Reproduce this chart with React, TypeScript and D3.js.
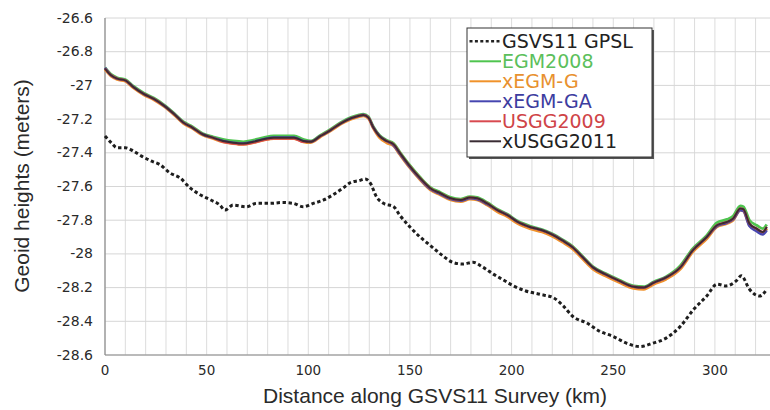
import React from "react";
import * as d3 from "d3";

const yTicks = [-26.6, -26.8, -27, -27.2, -27.4, -27.6, -27.8, -28, -28.2, -28.4, -28.6];
const xTicks = [0, 50, 100, 150, 200, 250, 300];

const modelKm = [0,3,6,10,14,19,24,29,34,38.5,43,48,53,58,63,68,73,78,83,88,93,97.5,101,106,111,116,121,125,127,129.5,132,135,138.5,142,145,150,155,160,165,170,175,179.5,183,188,193,198,203,209,215,220,225,230,235,240,246,253,260,265,270,276,283,289,296,301,306,309,312.5,314,317,320.5,323.5,325.5];

const egm2008 = [-26.895,-26.935,-26.955,-26.965,-27.005,-27.045,-27.075,-27.115,-27.165,-27.215,-27.245,-27.285,-27.305,-27.32,-27.33,-27.335,-27.325,-27.31,-27.30,-27.30,-27.30,-27.32,-27.33,-27.295,-27.26,-27.22,-27.19,-27.175,-27.17,-27.185,-27.245,-27.295,-27.325,-27.345,-27.395,-27.475,-27.545,-27.605,-27.635,-27.665,-27.675,-27.66,-27.665,-27.695,-27.735,-27.765,-27.805,-27.835,-27.855,-27.88,-27.915,-27.955,-28.015,-28.075,-28.115,-28.155,-28.19,-28.195,-28.165,-28.135,-28.07,-27.97,-27.89,-27.815,-27.795,-27.775,-27.715,-27.72,-27.80,-27.83,-27.85,-27.825];

const xEgmG = [-26.905,-26.945,-26.965,-26.975,-27.015,-27.055,-27.085,-27.125,-27.175,-27.225,-27.255,-27.295,-27.315,-27.335,-27.345,-27.35,-27.34,-27.325,-27.315,-27.315,-27.315,-27.335,-27.34,-27.305,-27.27,-27.23,-27.2,-27.185,-27.18,-27.195,-27.255,-27.31,-27.34,-27.36,-27.41,-27.49,-27.56,-27.62,-27.65,-27.68,-27.69,-27.675,-27.68,-27.71,-27.75,-27.78,-27.82,-27.85,-27.87,-27.895,-27.93,-27.97,-28.03,-28.09,-28.13,-28.17,-28.205,-28.21,-28.18,-28.15,-28.09,-27.99,-27.91,-27.84,-27.82,-27.80,-27.74,-27.745,-27.83,-27.86,-27.88,-27.85];

const xEgmGA = [-26.895,-26.94,-26.96,-26.97,-27.01,-27.05,-27.08,-27.12,-27.17,-27.22,-27.25,-27.29,-27.31,-27.33,-27.34,-27.345,-27.335,-27.32,-27.31,-27.31,-27.31,-27.33,-27.335,-27.30,-27.265,-27.225,-27.195,-27.18,-27.175,-27.19,-27.25,-27.30,-27.33,-27.355,-27.405,-27.485,-27.555,-27.615,-27.645,-27.675,-27.685,-27.67,-27.675,-27.705,-27.74,-27.77,-27.81,-27.84,-27.86,-27.885,-27.92,-27.96,-28.02,-28.08,-28.12,-28.16,-28.195,-28.20,-28.17,-28.14,-28.08,-27.98,-27.90,-27.835,-27.815,-27.795,-27.74,-27.745,-27.835,-27.865,-27.885,-27.86];

const usgg2009 = [-26.90,-26.94,-26.96,-26.97,-27.01,-27.05,-27.08,-27.12,-27.17,-27.22,-27.25,-27.29,-27.31,-27.335,-27.345,-27.35,-27.34,-27.325,-27.315,-27.315,-27.315,-27.335,-27.335,-27.30,-27.265,-27.225,-27.195,-27.18,-27.175,-27.19,-27.25,-27.30,-27.33,-27.35,-27.40,-27.48,-27.55,-27.61,-27.64,-27.67,-27.68,-27.665,-27.67,-27.70,-27.74,-27.77,-27.81,-27.84,-27.86,-27.885,-27.92,-27.96,-28.02,-28.08,-28.12,-28.16,-28.195,-28.20,-28.17,-28.14,-28.08,-27.98,-27.90,-27.83,-27.81,-27.79,-27.73,-27.735,-27.82,-27.85,-27.87,-27.84];

const xUsgg2011 = [-26.90,-26.94,-26.96,-26.97,-27.01,-27.05,-27.08,-27.12,-27.17,-27.22,-27.25,-27.29,-27.31,-27.33,-27.34,-27.345,-27.335,-27.32,-27.31,-27.31,-27.31,-27.33,-27.335,-27.30,-27.265,-27.225,-27.195,-27.18,-27.175,-27.19,-27.25,-27.30,-27.33,-27.35,-27.40,-27.48,-27.55,-27.61,-27.64,-27.67,-27.68,-27.665,-27.67,-27.70,-27.74,-27.77,-27.81,-27.84,-27.86,-27.885,-27.92,-27.96,-28.02,-28.08,-28.12,-28.16,-28.195,-28.20,-28.17,-28.14,-28.08,-27.98,-27.90,-27.83,-27.81,-27.79,-27.73,-27.735,-27.82,-27.85,-27.87,-27.84];

const gpslKm = [0,3,6,10,14,18,23,27,32,37,42,47,52,56.5,59,63,69.5,74.5,81,87.5,92.5,97.5,102.5,107.5,112,117,121,125,128,130.5,133.5,137,142,145,150,155,160,166,171,176,181,186,191,196,201,207,214,220.5,225.5,230,237,243.5,250,256.5,263,269.5,276,283,289.5,296,301,305.5,310.5,313,317,322,325.5];
const gpsl = [-27.30,-27.34,-27.37,-27.37,-27.39,-27.42,-27.45,-27.47,-27.52,-27.55,-27.61,-27.65,-27.68,-27.71,-27.74,-27.71,-27.72,-27.70,-27.70,-27.695,-27.70,-27.72,-27.70,-27.68,-27.65,-27.61,-27.575,-27.565,-27.555,-27.58,-27.66,-27.70,-27.72,-27.77,-27.84,-27.90,-27.95,-28.01,-28.05,-28.06,-28.05,-28.08,-28.12,-28.155,-28.19,-28.22,-28.24,-28.26,-28.31,-28.37,-28.41,-28.46,-28.49,-28.53,-28.55,-28.53,-28.50,-28.43,-28.33,-28.25,-28.18,-28.19,-28.16,-28.13,-28.21,-28.25,-28.21];

const modelSeries = [
  { name: "EGM2008", values: egm2008, color: "#4fc44f", text: "#5cbf5c", width: 2.8 },
  { name: "xEGM-G", values: xEgmG, color: "#f0922a", text: "#e8912f", width: 2.8 },
  { name: "xEGM-GA", values: xEgmGA, color: "#4646b0", text: "#3d3da0", width: 2.6 },
  { name: "USGG2009", values: usgg2009, color: "#d84a50", text: "#cf4448", width: 2.4 },
  { name: "xUSGG2011", values: xUsgg2011, color: "#3a2c34", text: "#222222", width: 2 },
];

const W = 770, H = 410;
const left = 105, right = 770, top = 18, bottom = 355;

export default function App() {
  const x = d3.scaleLinear().domain([0, 327.1]).range([left, right]);
  const y = d3.scaleLinear().domain([-26.6, -28.6]).range([top, bottom]);
  const xGrid = d3.range(0, 330, 10);
  const line = d3.line<[number, number]>().x(d => x(d[0])).y(d => y(d[1])).curve(d3.curveMonotoneX);
  const tickFont = "'DejaVu Sans', sans-serif";
  const titleFont = "'Liberation Sans', Arial, sans-serif";

  const legendX = 467, legendY = 28, legendW = 185, legendH = 129;
  const rowY = (i: number) => 48.3 + i * 20;

  return (
    <svg width={W} height={H} style={{ position: "absolute", left: 0, top: 0, background: "#fff" }}>
      <rect x={0} y={0} width={W} height={H} fill="#fff" />
      {xGrid.map(v => (
        <line key={"gx" + v} x1={x(v)} x2={x(v)} y1={top} y2={bottom} stroke="#dcdcdc" strokeWidth={1} />
      ))}
      {yTicks.map(v => (
        <line key={"gy" + v} x1={left} x2={right} y1={y(v)} y2={y(v)} stroke="#d6d6d6" strokeWidth={1} />
      ))}
      <line x1={left} x2={left} y1={top} y2={bottom} stroke="#8a8a8a" strokeWidth={1.2} />
      <line x1={left} x2={right} y1={bottom} y2={bottom} stroke="#8a8a8a" strokeWidth={1.2} />
      {yTicks.map(v => (
        <text key={"ty" + v} x={93} y={y(v) + 4.5} textAnchor="end" fontFamily={tickFont} fontSize={14} fill="#2a2a2a">
          {String(v)}
        </text>
      ))}
      {xTicks.map(v => (
        <text key={"tx" + v} x={x(v)} y={374.5} textAnchor="middle" fontFamily={tickFont} fontSize={13.5} fill="#2a2a2a">
          {String(v)}
        </text>
      ))}
      <text x={435} y={403} textAnchor="middle" fontFamily={titleFont} fontSize={21} fill="#2a2a2a">
        Distance along GSVS11 Survey (km)
      </text>
      <text transform={`translate(28.5,186) rotate(-90)`} textAnchor="middle" fontFamily={titleFont} fontSize={21} fill="#2a2a2a">
        Geoid heights (meters)
      </text>
      {modelSeries.map(s => (
        <path key={s.name} d={line(modelKm.map((k, i) => [k, s.values[i]] as [number, number])) || ""} fill="none" stroke={s.color} strokeWidth={s.width} strokeLinejoin="round" />
      ))}
      <path d={line(gpslKm.map((k, i) => [k, gpsl[i]] as [number, number])) || ""} fill="none" stroke="#1e1e1e" strokeWidth={3} strokeDasharray="3.4 2.6" />
      <rect x={legendX + 2} y={legendY + 2} width={legendW} height={legendH} fill="#555" />
      <rect x={legendX} y={legendY} width={legendW} height={legendH} fill="#fff" stroke="#333" strokeWidth={1} />
      <line x1={469.5} x2={501} y1={rowY(0) - 7} y2={rowY(0) - 7} stroke="#222" strokeWidth={2.4} strokeDasharray="3 2.4" />
      <text x={502} y={rowY(0)} fontFamily={tickFont} fontSize={19} fill="#222">GSVS11 GPSL</text>
      {modelSeries.map((s, i) => (
        <g key={"lg" + s.name}>
          <line x1={469.5} x2={501} y1={rowY(i + 1) - 7} y2={rowY(i + 1) - 7} stroke={s.color} strokeWidth={2} />
          <text x={502} y={rowY(i + 1)} fontFamily={tickFont} fontSize={19} fill={s.text}>{s.name}</text>
        </g>
      ))}
    </svg>
  );
}
